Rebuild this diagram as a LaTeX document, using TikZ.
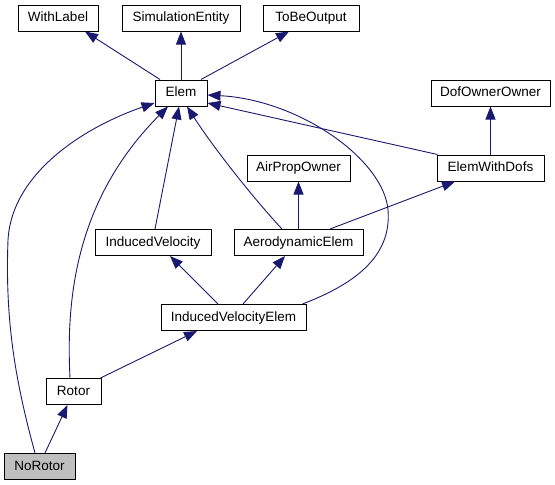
\documentclass[tikz,border=0pt]{standalone}
\usepackage{fontspec}
\setmainfont{Liberation Sans}
\usetikzlibrary{arrows.meta}
\definecolor{edgeblue}{RGB}{25,25,112}

\begin{document}
\begin{tikzpicture}[x=1pt,y=-1pt,
	cls/.style={draw=black,line width=1pt,fill=white,minimum height=26pt,inner sep=0pt,
		text height=10pt,text depth=3pt,font=\fontsize{13.5}{16}\selectfont},
	inh/.style={draw=edgeblue,line width=0.9pt,-{Triangle[length=13pt,width=10pt]},edgeblue}]
	\useasboundingbox (0,0) rectangle (555,485);

	\node[cls,minimum width=80pt] (WithLabel) at (58,18) {WithLabel};
	\node[cls,minimum width=118pt] (SimulationEntity) at (181,18) {SimulationEntity};
	\node[cls,minimum width=96pt] (ToBeOutput) at (311,18) {ToBeOutput};
	\node[cls,minimum width=52pt] (Elem) at (181,93) {Elem};
	\node[cls,minimum width=119pt] (DofOwnerOwner) at (490.5,93) {DofOwnerOwner};
	\node[cls,minimum width=103pt] (AirPropOwner) at (298.5,168) {AirPropOwner};
	\node[cls,minimum width=107pt] (ElemWithDofs) at (490.5,168) {ElemWithDofs};
	\node[cls,minimum width=116pt] (InducedVelocity) at (153,242.5) {InducedVelocity};
	\node[cls,minimum width=129pt] (AerodynamicElem) at (298.5,242.5) {AerodynamicElem};
	\node[cls,minimum width=145pt] (InducedVelocityElem) at (233.5,317.5) {InducedVelocityElem};
	\node[cls,minimum width=55pt] (Rotor) at (73.5,391.5) {Rotor};
	\node[cls,minimum width=71pt,fill=black!25] (NoRotor) at (39.5,466.5) {NoRotor};

	\draw[inh] ([xshift=-21pt]Elem.north) -- ([xshift=27pt]WithLabel.south);
	\draw[inh] (Elem.north) -- (SimulationEntity.south);
	\draw[inh] ([xshift=20pt]Elem.north) -- ([xshift=-22pt]ToBeOutput.south);

	\draw[inh] (ElemWithDofs.north) -- (DofOwnerOwner.south);
	\draw[inh] ([xshift=1pt]ElemWithDofs.north west) -- ([yshift=-10pt]Elem.east);

	\draw[inh] (AerodynamicElem.north) -- (AirPropOwner.south);
	\draw[inh] ([xshift=31.5pt]AerodynamicElem.north) -- ([xshift=-35.5pt]ElemWithDofs.south);
	\draw[inh] ([xshift=-16.5pt]AerodynamicElem.north) .. controls (255,200) and (215,150) .. ([xshift=6pt]Elem.south);

	\draw[inh] ([xshift=2pt]InducedVelocity.north) -- ([xshift=-2pt]Elem.south);

	\draw[inh] ([xshift=-15.5pt]InducedVelocityElem.north) -- ([xshift=17pt]InducedVelocity.south);
	\draw[inh] ([xshift=9.5pt]InducedVelocityElem.north) -- ([xshift=-13.5pt]AerodynamicElem.south);
	\draw[inh] ([xshift=-4pt]InducedVelocityElem.north east) .. controls (352,285) and (392,258) .. (388,210)
		.. controls (384,160) and (300,100) .. ([yshift=-2pt]Elem.east);

	\draw[inh] ([xshift=-1pt]Rotor.north east) -- ([xshift=-36.5pt]InducedVelocityElem.south);
	\draw[inh] ([xshift=-3.5pt]Rotor.north) .. controls (66,300) and (75,200) .. ([xshift=-13pt]Elem.south);

	\draw[inh] ([xshift=5.5pt]NoRotor.north) -- ([xshift=-6pt]Rotor.south);
	\draw[inh] ([xshift=-4.5pt]NoRotor.north) .. controls (15,380) and (5,320) .. (8,240)
		.. controls (12,170) and (90,125) .. ([yshift=-10pt]Elem.west);
\end{tikzpicture}
\end{document}
